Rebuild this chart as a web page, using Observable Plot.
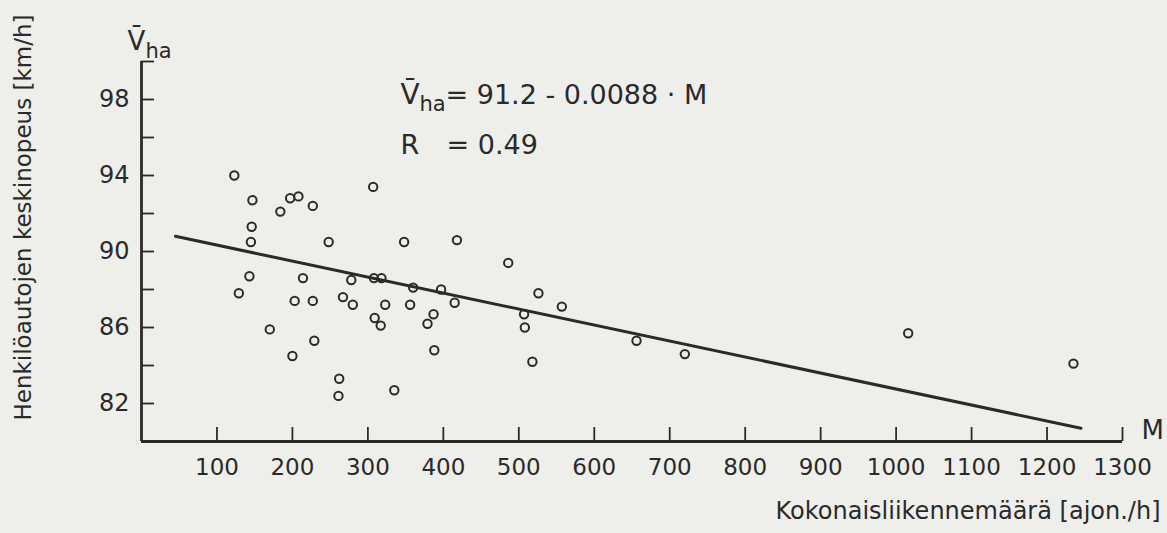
<!DOCTYPE html>
<html><head><meta charset="utf-8">
<script src="https://cdn.jsdelivr.net/npm/d3@7"></script>
<script src="https://cdn.jsdelivr.net/npm/@observablehq/plot@0.6"></script>
<style>
html,body{margin:0;padding:0;background:#eeeeea;}
#chart svg{display:block;}
</style></head><body><div id="chart"></div>
<script>
// Observed points: M = total traffic volume [veh/h], V = mean car speed [km/h]
const mValues = [123,147,184,197,208,146,145,143,129,203,170,200,214,
  227,307,248,348,418,278,308,318,360,397,415,227,267,280,323,356,309,317,387,379,229,388,262,261,335,
  486,526,557,507,508,518,656,720,1016,1235];
const vValues = [94.0,92.7,92.1,92.8,92.9,91.3,90.5,88.7,87.8,87.4,85.9,84.5,88.6,
  92.4,93.4,90.5,90.5,90.6,88.5,88.6,88.6,88.1,88.0,87.3,87.4,87.6,87.2,87.2,87.2,86.5,86.1,86.7,86.2,85.3,84.8,83.3,82.4,82.7,
  89.4,87.8,87.1,86.7,86.0,84.2,85.3,84.6,85.7,84.1];
// Regression line as drawn
const lineM = [45, 1245];
const lineV = [90.8, 80.7];
// Axis ticks
const xTicks = [100,200,300,400,500,600,700,800,900,1000,1100,1200,1300];
const yTicks = [82,84,86,88,90,92,94,96,98,100];
const yLabels = [82,86,90,94,98];
const yTitle = "Henkilöautojen keskinopeus [km/h]";
const xTitle = "Kokonaisliikennemäärä [ajon./h]";
const axisSymbolX = "M";
const eqLine1 = "= 91.2 - 0.0088 · M";
const eqLine2 = "= 0.49";

const points = mValues.map((m,i)=>({m, v:vValues[i]}));
const lineData = lineM.map((m,i)=>({m, v:lineV[i]}));

const W=1167, H=533, mL=141, mR=45, mT=61, mB=92;
const fw = W-mL-mR, fh = H-mT-mB;
const ink = "#2a2a2a";
const font = "'DejaVu Sans', sans-serif";

const chart = Plot.plot({
  width: W, height: H,
  marginLeft: mL, marginRight: mR, marginTop: mT, marginBottom: mB,
  style: {background: "#eeeeea", fontFamily: font, color: ink, overflow: "visible"},
  x: {domain: [0, 1300], axis: null},
  y: {domain: [80, 100], axis: null},
  marks: [
    Plot.ruleY([80], {stroke: ink, strokeWidth: 2.8}),
    Plot.ruleX([0], {stroke: ink, strokeWidth: 2.8}),
    Plot.tickX(xTicks, {x: d=>d, stroke: ink, strokeWidth: 1.8, insetTop: fh-14}),
    Plot.tickY(yTicks, {y: d=>d, stroke: ink, strokeWidth: 1.8, insetRight: fw-13}),
    Plot.text(xTicks, {x: d=>d, text: d=>String(d), frameAnchor: "bottom", dy: 33, fontSize: 23, fill: ink}),
    Plot.text(yLabels, {y: d=>d, text: d=>String(d), frameAnchor: "left", textAnchor: "end", dx: -12, fontSize: 24, fill: ink}),
    Plot.line(lineData, {x: "m", y: "v", stroke: ink, strokeWidth: 3}),
    Plot.dot(points, {x: "m", y: "v", r: 4.2, stroke: ink, strokeWidth: 2, fill: "none"}),
    Plot.text([yTitle], {text: d=>d, frameAnchor: "left", textAnchor: "middle", rotate: -90, dx: -118, dy: -34, fontSize: 23, fill: ink}),
    Plot.text([xTitle], {text: d=>d, frameAnchor: "bottom-right", textAnchor: "end", dx: 38, dy: 77, fontSize: 24, fill: ink}),
    Plot.text([axisSymbolX], {text: d=>d, frameAnchor: "bottom-right", textAnchor: "start", dx: 19, dy: -3, fontSize: 26, fill: ink}),
    Plot.text(["V\u0304"], {text: d=>d, frameAnchor: "top-left", textAnchor: "start", dx: -14, dy: -30, fontSize: 26, fill: ink}),
    Plot.text(["ha"], {text: d=>d, frameAnchor: "top-left", textAnchor: "start", dx: 4, dy: -18, fontSize: 21, fill: ink}),
    Plot.text(["V\u0304"], {text: d=>d, frameAnchor: "top-left", textAnchor: "start", dx: 259, dy: 23, fontSize: 28, fill: ink}),
    Plot.text(["ha"], {text: d=>d, frameAnchor: "top-left", textAnchor: "start", dx: 278, dy: 35, fontSize: 21, fill: ink}),
    Plot.text([eqLine1], {text: d=>d, frameAnchor: "top-left", textAnchor: "start", dx: 304, dy: 23, fontSize: 27, fill: ink}),
    Plot.text(["R"], {text: d=>d, frameAnchor: "top-left", textAnchor: "start", dx: 259, dy: 73, fontSize: 27, fill: ink}),
    Plot.text([eqLine2], {text: d=>d, frameAnchor: "top-left", textAnchor: "start", dx: 305, dy: 73, fontSize: 27, fill: ink})
  ]
});
document.getElementById("chart").appendChild(chart);
</script>
</body></html>
